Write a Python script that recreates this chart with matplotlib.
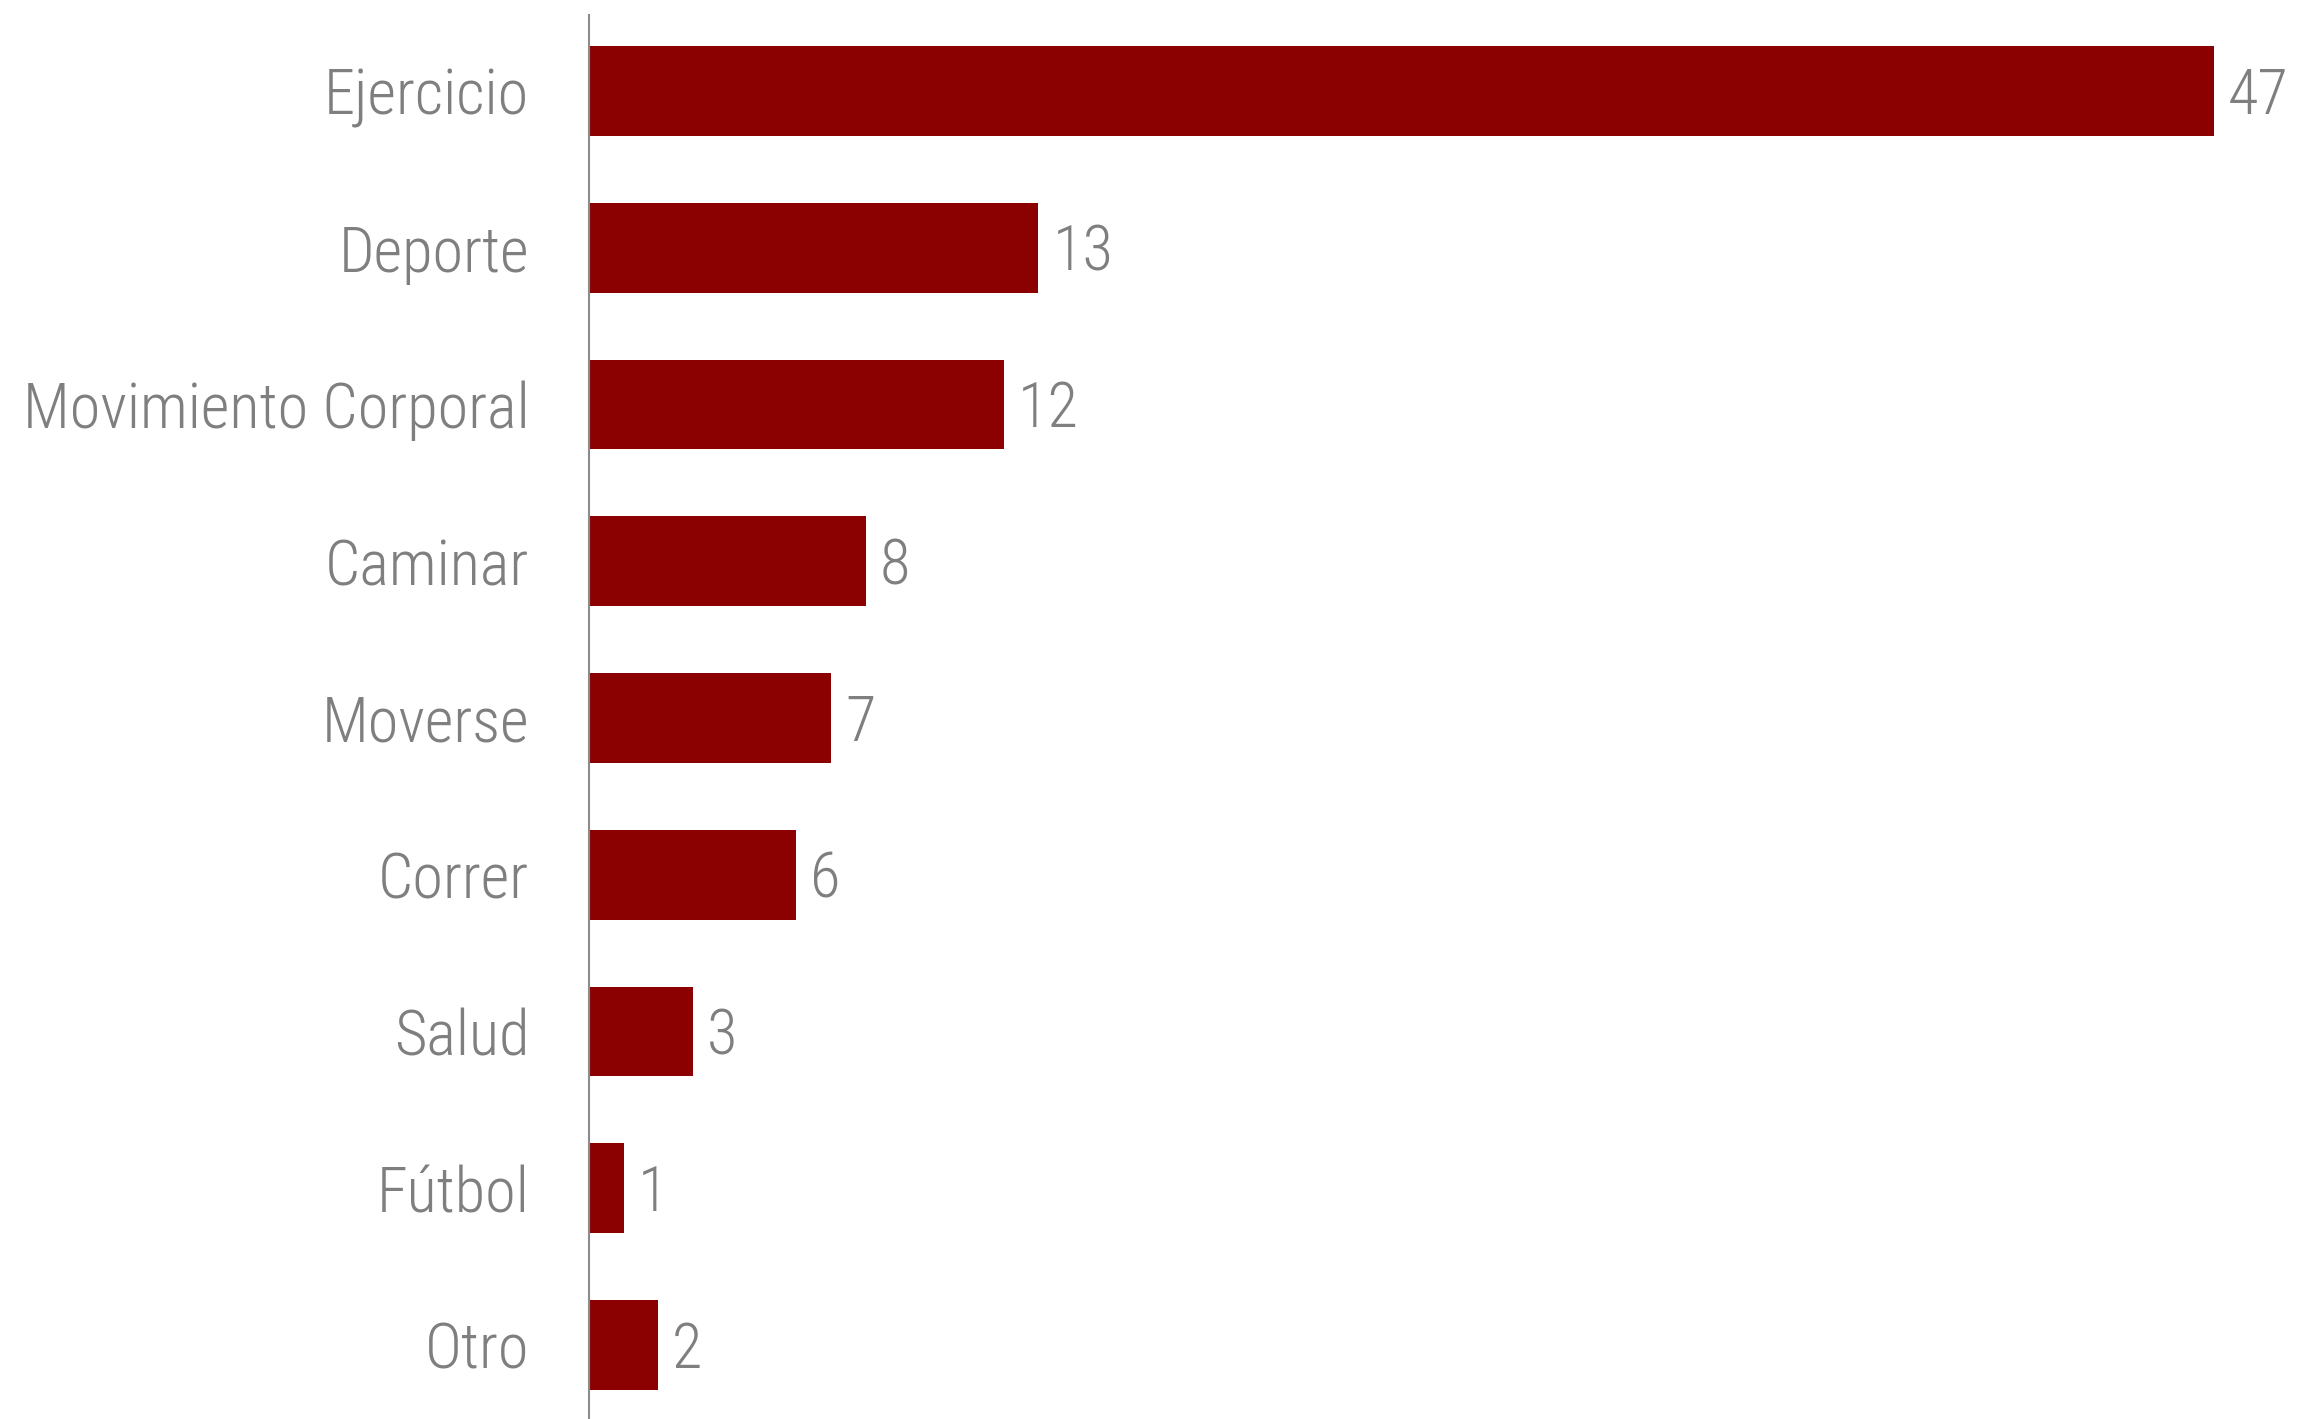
import matplotlib
matplotlib.use("Agg")
import matplotlib.pyplot as plt
from matplotlib import font_manager

categories = ["Ejercicio", "Deporte", "Movimiento Corporal", "Caminar",
              "Moverse", "Correr", "Salud", "Fútbol", "Otro"]
values = [47, 13, 12, 8, 7, 6, 3, 1, 2]

bar_color = "#8b0000"
text_color = "#7f7f7f"

# pick a narrow face if one is installed
names = {f.name for f in font_manager.fontManager.ttflist}
family = "DejaVu Sans"
stretch = "normal"
for cand in ["Roboto Condensed", "Liberation Sans Narrow", "Open Sans Condensed"]:
    if cand in names:
        family = cand
        break
else:
    stretch = "condensed"

fig = plt.figure(figsize=(23.04, 14.19), dpi=100)
ax = fig.add_axes([589 / 2304, 0, 1 - 589 / 2304, 1 - 15 / 1419])

pos = list(range(len(categories)))
ax.barh(pos, values, height=0.572, color=bar_color)
ax.set_ylim(len(categories) - 1 + 0.472, -0.485)
ax.set_xlim(0, 49.6)

for p, v in zip(pos, values):
    ax.annotate(str(v), (v, p), xytext=(10, -4), textcoords="offset points",
                va="center", ha="left", fontsize=45, color=text_color,
                family=family, stretch=stretch, weight="light")

ax.set_yticks(pos)
ax.set_yticklabels(categories, fontsize=45, color=text_color,
                   family=family, stretch=stretch, weight="light")
ax.tick_params(axis="y", length=0, pad=43)
ax.set_xticks([])

for s in ["top", "right", "bottom"]:
    ax.spines[s].set_visible(False)
ax.spines["left"].set_color("#8c8c8c")
ax.spines["left"].set_linewidth(1.5)

fig.savefig("out.png", dpi=100)
